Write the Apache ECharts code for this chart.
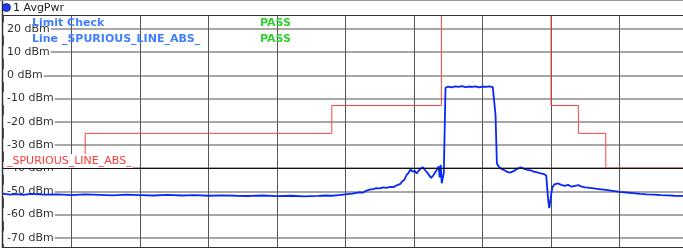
<!DOCTYPE html>
<html><head><meta charset="utf-8">
<script src="https://cdn.jsdelivr.net/npm/echarts@6/dist/echarts.min.js"></script>
<style>html,body{margin:0;padding:0;background:#fff;overflow:hidden}#c{width:700px;height:270px}</style>
</head><body><div id="c"></div>
<script>
// Relative frequency (0..100 = full span, 10 per division) and measured power in dBm
const traceFreq = [0,1,2,3,4,6,8,10,12,14,16,18,20,22,24,26,28,30,32,34,36,38,40,42,44,46,47,48,49,50,51,52,52.5,53,53.5,54,54.5,55,55.5,56,56.5,57,57.5,58,58.3,58.6,58.9,59.2,59.5,59.8,60.1,60.4,60.7,61,61.3,61.6,61.9,62.2,62.5,62.8,63.1,63.4,63.6,63.75,63.9,64.05,64.2,64.35,64.6,65,65.5,66,66.5,67,67.5,68,68.5,69,69.5,70,70.5,71,71.5,71.75,71.9,72,72.1,72.4,72.8,73.2,73.6,74,74.4,74.8,75.2,75.6,76,76.5,77,77.5,78,78.5,79,79.3,79.5,79.6,79.75,79.9,80.05,80.2,80.5,81,81.5,82,82.5,83,83.5,84,84.5,85,86,87,88,89,90,91,92,93,94,95,96,97,98,99,100];
const traceLevel = [-51.0,-51.4,-51.2,-51.5,-51.1,-51.4,-51.3,-51.6,-51.3,-51.5,-51.7,-51.4,-51.6,-51.8,-51.5,-51.8,-51.6,-51.9,-51.7,-51.9,-52.0,-51.8,-52.1,-51.9,-52.2,-52.0,-51.8,-51.9,-51.6,-51.3,-51.0,-50.4,-50.6,-49.8,-49.3,-49.0,-48.6,-48.7,-48.3,-48.5,-48.1,-48.2,-47.4,-46.8,-45.6,-45.0,-43.0,-42.0,-40.6,-41.5,-41.2,-42.3,-41.0,-40.2,-39.6,-40.8,-41.8,-43.0,-44.2,-43.2,-41.8,-40.5,-39.2,-44.0,-38.6,-46.5,-47.0,-42.0,-5.4,-4.8,-5.2,-4.7,-5.0,-4.6,-5.1,-4.8,-5.0,-4.7,-5.2,-4.8,-5.0,-4.7,-5.1,-5.0,-17.0,-17.5,-38.0,-39.5,-40.4,-40.9,-41.6,-41.9,-41.5,-40.8,-40.1,-39.7,-40.2,-40.7,-40.9,-41.5,-41.8,-42.3,-42.6,-43.2,-44.0,-54.0,-57.2,-56.5,-51.0,-48.2,-47.0,-46.6,-47.2,-47.6,-47.2,-48.0,-47.6,-47.3,-48.0,-48.3,-48.6,-49.0,-49.4,-49.8,-50.2,-50.5,-50.8,-51.1,-51.3,-51.4,-51.6,-51.7,-51.9,-52.0,-52.2];
// Limit line _SPURIOUS_LINE_ABS_
const limitFreq = [0,12,12,48,48,64,64,80,80,84,84,88,88,100];
const limitLevel = [-40,-40,-25,-25,-13,-13,40,40,-13,-13,-25,-25,-40,-40];
const thresholdLevel = -40;
const yMin = -80, yMax = 30, yStep = 10;
const title = '1 AvgPwr';
const limitName = '_SPURIOUS_LINE_ABS_';
const checkRows = [['Limit Check','PASS'],['Line _SPURIOUS_LINE_ABS_','PASS']];

const chart = echarts.init(document.getElementById('c'), null, {renderer:'canvas'});
const FONT = 'DejaVu Sans';
const zip = (a,b)=>a.map((v,i)=>[v,b[i]]);
const graphics = [
  {type:'rect', z:100, shape:{x:0,y:0,width:700,height:15}, style:{fill:'#fff'}},
  {type:'line', z:101, shape:{x1:0,y1:0.5,x2:700,y2:0.5}, style:{stroke:'#999',lineWidth:1}},
  {type:'line', z:101, shape:{x1:2,y1:15.5,x2:700,y2:15.5}, style:{stroke:'#333',lineWidth:1}},
  {type:'line', z:101, shape:{x1:2.5,y1:1,x2:2.5,y2:248}, style:{stroke:'#333',lineWidth:1.5}},
  {type:'line', z:101, shape:{x1:2,y1:247.5,x2:700,y2:247.5}, style:{stroke:'#333',lineWidth:1}},
  {type:'circle', z:102, shape:{cx:6.5,cy:7.5,r:4}, style:{fill:'#1a3cf0',stroke:'#1a2060',lineWidth:0.8}},
  {type:'text', z:102, style:{text:title, x:13, y:8, fill:'#222', font:'11px "'+FONT+'"', verticalAlign:'middle'}},
  {type:'text', z:102, style:{text:limitName, x:4, y:161, fill:'#ff3b3b', font:'11px "'+FONT+'"', verticalAlign:'middle', backgroundColor:'#fff', padding:[2,1,1,3]}}
];
checkRows.forEach((r,i)=>{
  graphics.push({type:'text', z:102, style:{text:r[0], x:32, y:23+i*16, fill:'#3f7fff', font:'bold 11px "'+FONT+'"', verticalAlign:'middle'}});
  graphics.push({type:'text', z:102, style:{text:r[1], x:260, y:23+i*16, fill:'#2fd12f', font:'bold 11px "'+FONT+'"', verticalAlign:'middle'}});
});

chart.setOption({
  animation:false,
  backgroundColor:'#fff',
  grid:{left:3, top:5.81, width:685, height:255.1, containLabel:false, outerBoundsMode:'none'},
  xAxis:{type:'value', min:0, max:100, interval:10,
    axisLabel:{show:false}, axisTick:{show:false}, axisLine:{show:false},
    splitLine:{show:true, lineStyle:{color:'#555', width:1}}},
  yAxis:{type:'value', min:yMin, max:yMax, interval:yStep,
    axisLine:{show:false}, axisTick:{show:false},
    axisLabel:{inside:true, margin:0, color:'#333', fontFamily:FONT, fontSize:11,
      backgroundColor:'#fff', padding:[1,1,1,4],
      formatter:v=> (v>=yMax||v<=yMin)?'':(v+' dBm')},
    splitLine:{show:true, lineStyle:{color:'#8a8a8a', width:1.5}}},
  graphic:graphics,
  series:[
    {type:'line', data:[], z:1, silent:true,
     markLine:{silent:true, symbol:'none', label:{show:false},
       lineStyle:{color:'#111', width:1, type:'solid'}, data:[{yAxis:thresholdLevel}]}},
    {type:'line', name:limitName, data:zip(limitFreq,limitLevel), z:3, showSymbol:false,
     lineStyle:{color:'#ff4040', width:1}, clip:true},
    {type:'line', name:title, data:zip(traceFreq,traceLevel), z:4, showSymbol:false,
     lineStyle:{color:'#0a28f5', width:1.8}, clip:true}
  ]
});
</script></body></html>
